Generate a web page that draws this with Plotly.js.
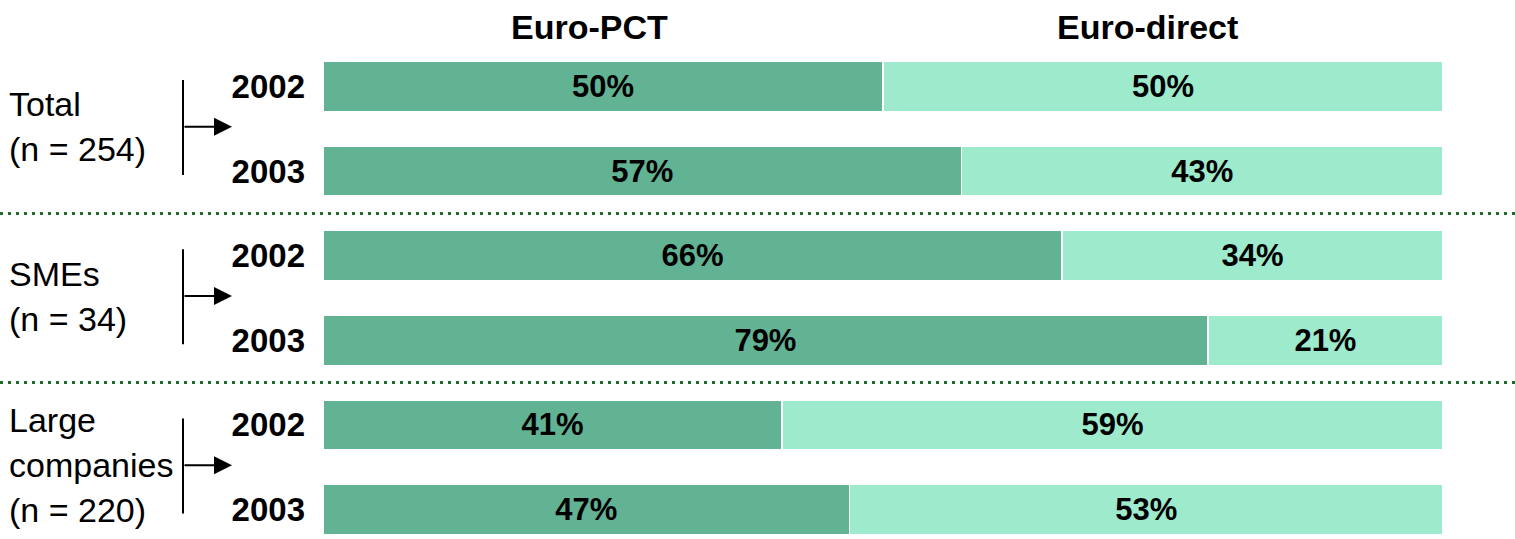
<!DOCTYPE html>
<html><head><meta charset="utf-8">
<script src="https://cdn.plot.ly/plotly-3.0.1.min.js"></script>
<style>html,body{margin:0;padding:0;background:#fff;}#chart{width:1515px;height:539px;}</style>
</head><body><div id="chart"></div>
<script>
// ---- data ----
const groups = [["Total", "(n = 254)"], ["SMEs", "(n = 34)"], ["Large", "companies", "(n = 220)"]];
const years = ["2002", "2003"];
const euroPCT = [50, 57, 66, 79, 41, 47];
const euroDirect = [50, 43, 34, 21, 59, 53];
const seriesNames = ["Euro-PCT", "Euro-direct"];

// ---- layout helpers ----
const W = 1515, H = 539, L = 323, R = 72;
const rowPx = 84.6, firstPx = 86.5;
const pxToY = p => (p - firstPx) / rowPx;
const pxToX = p => (p - L) / (W - L - R);
const rows = euroPCT.map((_, i) => i);
const yearLabels = rows.map(i => years[i % 2]);
const sans = "Liberation Sans, Arial, sans-serif";

const common = {
  type: "bar", orientation: "h", y: rows, width: 50 / rowPx,
  texttemplate: "%{x}%", textposition: "inside", insidetextanchor: "middle",
  textfont: {family: sans, size: 31, color: "#000", weight: "bold"},
  insidetextfont: {family: sans, size: 31, color: "#000", weight: "bold"},
  constraintext: "none", hoverinfo: "skip", cliponaxis: false
};
const traces = [
  Object.assign({}, common, {x: euroPCT, name: seriesNames[0], marker: {color: "#62B294", line: {color: "#fff", width: 1.5}}}),
  Object.assign({}, common, {x: euroDirect, name: seriesNames[1], marker: {color: "#9EEACC", line: {color: "#fff", width: 1.5}}})
];

const annotations = [];
const shapes = [];
// headers
annotations.push({text: seriesNames[0], xref: "paper", yref: "y", x: pxToX(589), xanchor: "center", y: pxToY(27), showarrow: false,
  font: {family: sans, size: 34, color: "#000", weight: "bold"}});
annotations.push({text: seriesNames[1], xref: "paper", yref: "y", x: pxToX(1147), xanchor: "center", y: pxToY(27), showarrow: false,
  font: {family: sans, size: 34, color: "#000", weight: "bold"}});

groups.forEach((lines, g) => {
  const mid = 2 * g + 0.5;
  const sp = 45 / rowPx;
  lines.forEach((t, k) => {
    annotations.push({text: t, xref: "paper", yref: "y", x: pxToX(7), xanchor: "left",
      y: mid + (k - (lines.length - 1) / 2) * sp - 2 / rowPx, yanchor: "middle", showarrow: false,
      font: {family: sans, size: 34, color: "#000"}});
  });
  // bracket
  shapes.push({type: "line", xref: "paper", yref: "y", x0: pxToX(183), x1: pxToX(183),
    y0: 2 * g - 0.077, y1: 2 * g + 1.046, line: {color: "#000", width: 2}});
  annotations.push({text: "", xref: "paper", yref: "y", x: pxToX(232), y: mid - 2 / rowPx, showarrow: true,
    axref: "pixel", ayref: "pixel", ax: -49, ay: 0, arrowhead: 2, arrowsize: 1.8, arrowwidth: 2, arrowcolor: "#000", standoff: 0});
  if (g < groups.length - 1) {
    shapes.push({type: "line", xref: "paper", yref: "y", x0: pxToX(0), x1: pxToX(W),
      y0: 2 * g + 1.5, y1: 2 * g + 1.5, line: {color: "#1B6B2B", width: 3, dash: "3px,5px"}});
  }
});

const layout = {
  width: W, height: H, margin: {l: L, r: R, t: 0, b: 0, pad: 0},
  paper_bgcolor: "#fff", plot_bgcolor: "#fff",
  barmode: "stack", showlegend: false,
  xaxis: {range: [0, 100], visible: false, fixedrange: true},
  yaxis: {range: [pxToY(H), pxToY(0)], tickvals: rows, ticktext: yearLabels, showgrid: false, zeroline: false,
    showline: false, ticks: "", ticklabelstandoff: 17,
    tickfont: {family: sans, size: 33, color: "#000", weight: "bold"}},
  annotations: annotations, shapes: shapes
};
Plotly.newPlot("chart", traces, layout, {displayModeBar: false, staticPlot: true});
</script></body></html>
